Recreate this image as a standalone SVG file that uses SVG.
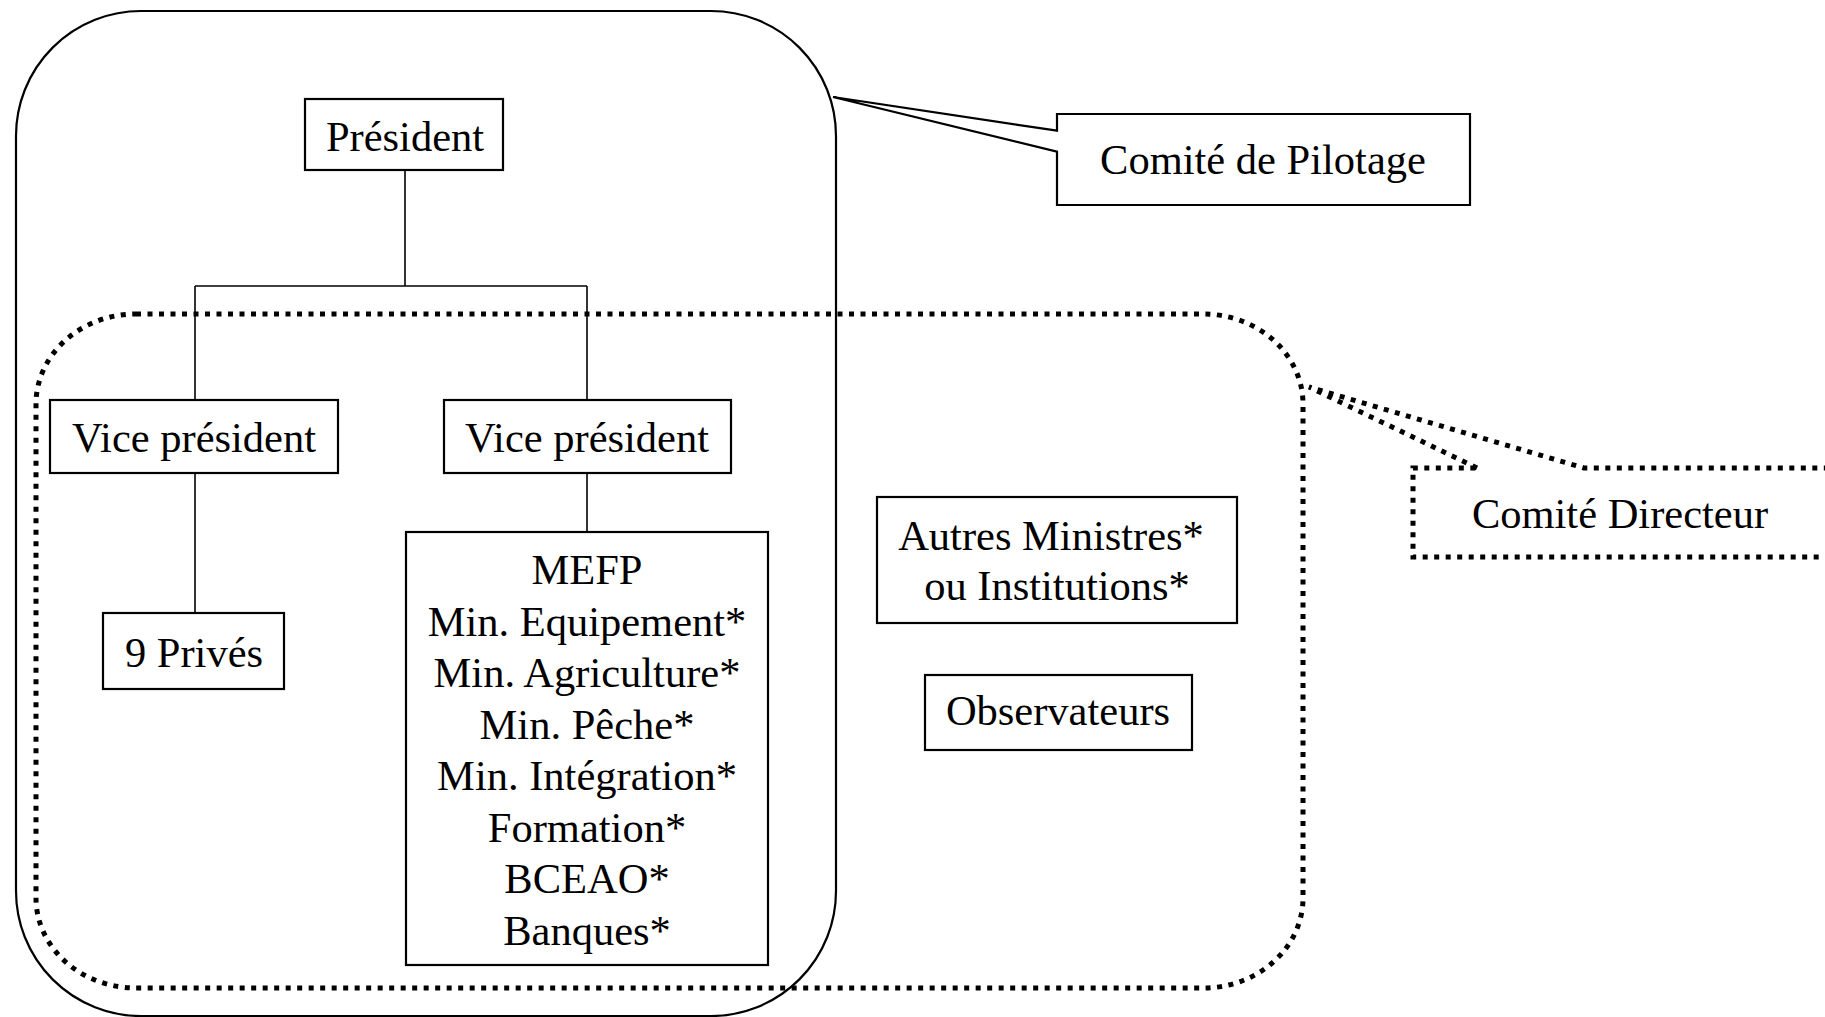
<svg xmlns="http://www.w3.org/2000/svg" width="1825" height="1017" viewBox="0 0 1825 1017">
  <style>
    .box { fill: #ffffff; stroke: #000; stroke-width: 2.2; }
    .solid { fill: none; stroke: #000; stroke-width: 2.2; }
    .dotted { fill: none; stroke: #000; stroke-width: 5; stroke-dasharray: 5 6.5; }
    .link { fill: none; stroke: #000; stroke-width: 1.6; }
    .lbl { font-family: "Liberation Serif", "Times New Roman", serif; font-size: 42.5px; fill: #000; text-anchor: middle; }
  </style>

  <rect width="1825" height="1017" fill="#ffffff"/>

  <!-- Comité de Pilotage boundary (solid rounded frame) -->
  <g id="pilotage-frame">
    <rect class="solid" x="16" y="11" width="820" height="1005" rx="125" ry="125"/>
  </g>

  <!-- Comité Directeur boundary (dotted rounded frame) -->
  <g id="directeur-frame">
    <rect class="dotted" x="36" y="314" width="1267" height="674" rx="100" ry="90"/>
  </g>

  <!-- Organisation chart connectors -->
  <g id="connectors">
    <path class="link" d="M405,170 V286"/>
    <path class="link" d="M195,286 H587"/>
    <path class="link" d="M195,286 V400"/>
    <path class="link" d="M587,286 V400"/>
    <path class="link" d="M195,473 V613"/>
    <path class="link" d="M587,473 V532"/>
  </g>

  <g id="president">
    <rect class="box" x="305" y="99" width="198" height="71"/>
    <text class="lbl" x="405" y="151">Président</text>
  </g>

  <g id="vice-president-1">
    <rect class="box" x="50" y="400" width="288" height="73"/>
    <text class="lbl" x="194" y="452">Vice président</text>
  </g>

  <g id="vice-president-2">
    <rect class="box" x="444" y="400" width="287" height="73"/>
    <text class="lbl" x="587" y="452">Vice président</text>
  </g>

  <g id="prives">
    <rect class="box" x="103" y="613" width="181" height="76"/>
    <text class="lbl" x="194" y="667">9 Privés</text>
  </g>

  <g id="ministeres">
    <rect class="box" x="406" y="532" width="362" height="433"/>
    <text class="lbl" x="587" y="584">MEFP</text>
    <text class="lbl" x="587" y="635.5">Min. Equipement*</text>
    <text class="lbl" x="587" y="687">Min. Agriculture*</text>
    <text class="lbl" x="587" y="738.5">Min. Pêche*</text>
    <text class="lbl" x="587" y="790">Min. Intégration*</text>
    <text class="lbl" x="587" y="841.5">Formation*</text>
    <text class="lbl" x="587" y="893">BCEAO*</text>
    <text class="lbl" x="587" y="944.5">Banques*</text>
  </g>

  <g id="autres-ministres">
    <rect class="box" x="877" y="497" width="360" height="126"/>
    <text class="lbl" x="1051" y="550">Autres Ministres*</text>
    <text class="lbl" x="1057" y="600">ou Institutions*</text>
  </g>

  <g id="observateurs">
    <rect class="box" x="925" y="675" width="267" height="75"/>
    <text class="lbl" x="1058" y="725">Observateurs</text>
  </g>

  <!-- Callout: Comité de Pilotage -->
  <g id="comite-pilotage">
    <path class="solid" stroke-width="2.6" stroke-linejoin="miter" d="M1057,130.7 L833,97 L1057,151.7 V205 H1470 V114 H1057 Z"/>
    <text class="lbl" x="1263" y="174">Comité de Pilotage</text>
  </g>

  <!-- Callout: Comité Directeur -->
  <g id="comite-directeur">
    <path class="dotted" d="M1477,468 L1309,387 L1584,468 H1840 V557 H1413 V468 Z"/>
    <text class="lbl" x="1620" y="528">Comité Directeur</text>
  </g>
</svg>
